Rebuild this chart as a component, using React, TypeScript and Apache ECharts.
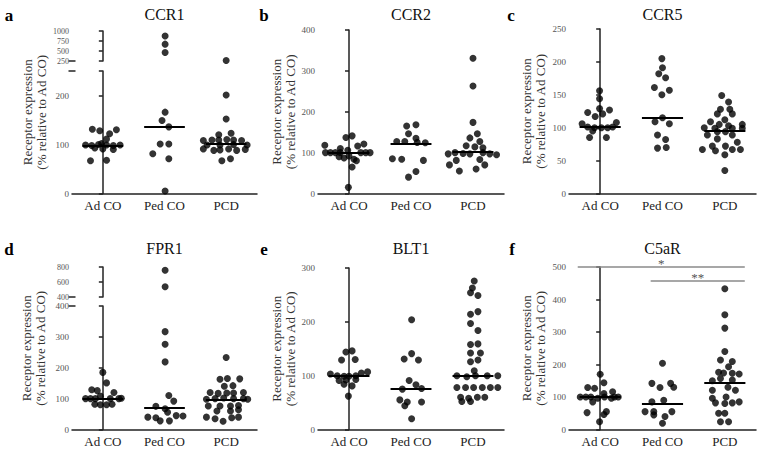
import React, { useEffect, useRef } from "react";
import * as echarts from "echarts";

const groups = ["Ad CO", "Ped CO", "PCD"];
const yName = "Receptor expression\n(% relative to Ad CO)";

// Each point: [horizontal jitter within its group (category units), receptor expression %]
// ---- a: CCR1 ----
const ccr1AdCO = [[-0.17,131],[-0.05,128],[0.22,130],[0.11,122],[0.06,111],[-0.28,99],[-0.18,98],[-0.07,100],[0.06,99],[0.17,98],[0.28,99],[-0.13,93],[0.0,91],[0.17,90],[-0.2,67],[0.06,68],[-0.02,102]];
const ccr1PedCO = [[0.01,874],[0.01,671],[0.01,461],[0.01,166],[-0.04,149],[0.07,136],[-0.07,101],[0.07,101],[-0.19,81],[0.07,71],[0.01,5]];
const ccr1PCD = [[0,262],[0,201],[0,152],[0.08,123],[-0.12,120],[-0.37,108],[-0.23,109],[-0.12,109],[0.01,110],[0.12,109],[0.25,108],[-0.31,99],[-0.1,99],[0.12,100],[0.34,99],[-0.37,91],[-0.2,88],[-0.1,89],[0.04,91],[0.17,88],[0.31,90],[-0.07,67],[0.07,71]];
const ccr1Median = [98, 136, 101];

// ---- b: CCR2 ----
const ccr2AdCO = [[0.05,141],[-0.05,137],[-0.39,118],[0.24,121],[-0.14,110],[0.14,116],[-0.02,106],[-0.38,100],[-0.3,100],[-0.22,100],[-0.14,100],[0.19,100],[0.27,100],[0.34,100],[-0.16,90],[-0.08,87],[0.0,92],[0.08,84],[0.12,80],[0.05,65],[-0.01,15]];
const ccr2PedCO = [[-0.07,165],[0.08,168],[-0.04,146],[0.08,135],[-0.23,127],[-0.1,127],[0.1,125],[0.23,124],[-0.3,85],[-0.15,84],[0.2,81],[0.08,54],[-0.04,40]];
const ccr2PCD = [[0,331],[0,263],[0,174],[0.07,146],[-0.05,136],[0.11,127],[-0.11,117],[0.03,114],[0.16,112],[-0.4,97],[-0.29,100],[-0.16,98],[-0.05,97],[0.16,100],[0.27,97],[0.38,95],[-0.27,81],[0.11,83],[-0.38,70],[0.19,70],[-0.22,55],[0.05,60]];
const ccr2Median = [100, 121, 101];

// ---- c: CCR5 ----
const ccr5AdCO = [[-0.01,156],[-0.01,144],[-0.2,123],[-0.01,129],[0.15,127],[-0.08,117],[0.04,121],[-0.29,106],[0.26,108],[-0.2,101],[-0.09,100],[0.02,100],[0.12,100],[0.2,101],[-0.12,95],[-0.17,85],[0.1,85]];
const ccr5PedCO = [[-0.01,205],[0,191],[-0.06,182],[0.05,176],[-0.13,161],[0.11,157],[-0.01,150],[0,115],[-0.12,109],[0.11,106],[-0.08,89],[0.05,82],[-0.08,69],[0.06,70]];
const ccr5PCD = [[-0.05,149],[0.06,139],[-0.07,128],[0.08,128],[-0.12,121],[0.12,121],[0,112],[-0.23,109],[-0.09,105],[0.06,103],[0.28,105],[-0.33,100],[-0.16,99],[0.12,99],[0.28,99],[-0.12,94],[0.01,94],[-0.28,89],[0.12,89],[-0.12,83],[0.2,78],[-0.2,72],[0.01,72],[-0.36,67],[-0.15,65],[0.12,67],[0.25,67],[0,59],[0,35]];
const ccr5Median = [101, 115, 95];

// ---- d: FPR1 ----
const fpr1AdCO = [[0,185],[0.06,151],[-0.18,129],[-0.09,126],[0.18,120],[-0.28,100],[-0.2,100],[-0.12,100],[0.12,100],[0.26,100],[0.3,101],[-0.04,108],[-0.13,82],[-0.04,80],[0.06,80],[0.15,82]];
const fpr1PedCO = [[0.01,756],[0.01,536],[0.01,317],[0.01,276],[0.01,219],[0.07,110],[-0.14,75],[0.15,92],[0.01,67],[-0.27,40],[-0.14,38],[0.05,56],[0.3,44],[-0.07,28],[0.08,28],[0.19,45]];
const fpr1PCD = [[0,233],[-0.1,163],[0.02,165],[0.22,164],[0.11,142],[-0.03,140],[-0.26,120],[-0.13,117],[0.01,118],[0.12,118],[0.28,120],[-0.32,98],[-0.18,100],[-0.04,102],[0.12,100],[0.28,100],[0.35,98],[-0.29,76],[-0.1,76],[0.07,76],[0.2,78],[-0.15,60],[0.07,60],[0.2,64],[-0.32,40],[-0.18,35],[0.09,38],[0.2,40],[-0.05,27]];
const fpr1Median = [100, 72, 95];

// ---- e: BLT1 ----
const blt1AdCO = [[-0.05,144],[0.05,146],[-0.12,129],[0.1,130],[-0.3,103],[-0.19,100],[-0.08,99],[0,99],[0.11,100],[0.2,105],[0.3,107],[-0.16,91],[-0.05,92],[0.11,93],[-0.08,84],[0.05,81],[-0.01,62]];
const blt1PedCO = [[0.01,204],[0.01,141],[-0.11,131],[0.12,129],[-0.03,91],[0.08,83],[-0.14,75],[0.17,76],[-0.18,55],[-0.06,51],[0.17,51],[-0.1,44],[0.01,20]];
const blt1PCD = [[0.02,276],[-0.01,263],[-0.04,254],[0.08,249],[-0.04,214],[0.08,219],[-0.04,197],[0.08,184],[-0.04,158],[0.08,159],[-0.04,142],[0.12,142],[-0.04,126],[0.08,129],[0.02,109],[-0.26,100],[-0.1,98],[0.04,100],[0.23,100],[0.4,100],[-0.26,78],[-0.12,78],[0.01,78],[0.15,78],[0.28,78],[0.4,78],[-0.2,60],[-0.07,58],[0.07,60],[0.19,60],[-0.18,52],[-0.04,52]];
const blt1Median = [100, 75, 100];

// ---- f: C5aR ----
const c5arAdCO = [[0,170],[0.06,144],[-0.2,129],[-0.09,127],[0.2,116],[0.06,111],[-0.32,100],[-0.23,100],[-0.15,100],[0.07,100],[0.23,100],[0.29,100],[-0.04,96],[0.18,96],[-0.12,85],[-0.21,52],[0.1,55],[0.06,46],[-0.01,24]];
const c5arPedCO = [[0,204],[-0.17,142],[0.13,142],[-0.04,129],[0.18,130],[-0.17,85],[0.02,90],[-0.28,55],[-0.14,55],[0.15,55],[-0.14,45],[0.04,40],[0,19]];
const c5arPCD = [[0,433],[0,353],[0,312],[0,240],[-0.07,214],[0.12,209],[0.06,193],[-0.1,176],[-0.02,174],[0.12,173],[0.23,171],[-0.2,150],[-0.07,157],[0.12,152],[-0.2,121],[0.17,121],[0.05,130],[-0.2,96],[0.02,100],[-0.15,82],[0,80],[0.12,82],[0.23,85],[-0.1,50],[0,50],[-0.07,24],[0.06,24]];
const c5arMedian = [100, 79, 145];

// significance brackets in panel f: [x from, x to, y level, label]
const c5arSig: [number, number, number, string][] = [[-0.36, 2.32, 500, "*"], [0.81, 2.32, 457, "**"]];

const FONT = "Liberation Serif";
const AX = { color: "#222", width: 1.5 };

interface Brk { top: number; bottom: number; min: number; max: number; interval: number }
interface Panel {
  letter: string; title: string; data: number[][][]; medians: number[];
  left: number; width: number; lowTop: number; lowBottom: number; lowMax: number; lowInterval: number;
  brk?: Brk; nameX: number; titleY: number; letterX: number; sig?: [number, number, number, string][];
}

const panels: Panel[] = [
  { letter: "a", title: "CCR1", data: [ccr1AdCO, ccr1PedCO, ccr1PCD], medians: ccr1Median, left: 72, width: 185, lowTop: 71, lowBottom: 193.5, lowMax: 250, lowInterval: 100, brk: { top: 31, bottom: 61, min: 250, max: 1000, interval: 250 }, nameX: 34, titleY: 14, letterX: 9 },
  { letter: "b", title: "CCR2", data: [ccr2AdCO, ccr2PedCO, ccr2PCD], medians: ccr2Median, left: 318, width: 186, lowTop: 30, lowBottom: 193.5, lowMax: 400, lowInterval: 100, nameX: 283, titleY: 14, letterX: 264 },
  { letter: "c", title: "CCR5", data: [ccr5AdCO, ccr5PedCO, ccr5PCD], medians: ccr5Median, left: 569, width: 187, lowTop: 29, lowBottom: 193.5, lowMax: 250, lowInterval: 50, nameX: 533, titleY: 14, letterX: 511 },
  { letter: "d", title: "FPR1", data: [fpr1AdCO, fpr1PedCO, fpr1PCD], medians: fpr1Median, left: 72, width: 185, lowTop: 306, lowBottom: 429.5, lowMax: 400, lowInterval: 100, brk: { top: 267, bottom: 297, min: 400, max: 800, interval: 200 }, nameX: 33, titleY: 248, letterX: 9 },
  { letter: "e", title: "BLT1", data: [blt1AdCO, blt1PedCO, blt1PCD], medians: blt1Median, left: 318, width: 186, lowTop: 268, lowBottom: 429.5, lowMax: 300, lowInterval: 100, nameX: 283, titleY: 248, letterX: 264 },
  { letter: "f", title: "C5aR", data: [c5arAdCO, c5arPedCO, c5arPCD], medians: c5arMedian, left: 569, width: 187, lowTop: 267, lowBottom: 429.5, lowMax: 500, lowInterval: 100, nameX: 533, titleY: 248, letterX: 512, sig: c5arSig },
];

function yAxisOpt(gridIndex: number, min: number, max: number, interval: number, fs: number) {
  return {
    type: "value", gridIndex, min, max, interval,
    axisLine: { show: true, lineStyle: AX },
    axisTick: { show: true, length: 4, lineStyle: AX },
    axisLabel: { color: "#555", fontSize: fs, fontFamily: FONT, margin: 3,
      formatter: (v: number) => ((v - min) % interval === 0 ? String(v) : "") },
    splitLine: { show: false },
  };
}

function text(x: number, y: number, t: string, size: number, weight = "normal", color = "#111", rotation = 0) {
  return {
    type: "text", x, y, rotation, silent: true,
    style: { text: t, fontSize: size, fontFamily: FONT, fontWeight: weight, fill: color,
      align: "center", verticalAlign: "middle", textAlign: "center", textVerticalAlign: "middle", lineHeight: 14 },
  };
}

function buildOption() {
  const grid: any[] = [], xAxis: any[] = [], yAxis: any[] = [], series: any[] = [], graphic: any[] = [];
  panels.forEach((p) => {
    const lg = grid.length;
    grid.push({ left: p.left, top: p.lowTop, width: p.width, height: p.lowBottom - p.lowTop });
    xAxis.push({ type: "category", gridIndex: lg, data: groups,
      axisLine: { lineStyle: AX }, axisTick: { alignWithLabel: true, length: 4, lineStyle: AX },
      axisLabel: { color: "#222", fontSize: 13, fontFamily: FONT, margin: 5 }, splitLine: { show: false } });
    const lowX = xAxis.length;
    xAxis.push({ type: "value", gridIndex: lg, min: -0.5, max: 2.5, show: false, splitLine: { show: false } });
    const lowY = yAxis.length;
    yAxis.push(yAxisOpt(lg, 0, p.lowMax, p.lowInterval, 9));
    let topX = -1, topY = -1;
    if (p.brk) {
      const tg = grid.length;
      grid.push({ left: p.left, top: p.brk.top, width: p.width, height: p.brk.bottom - p.brk.top });
      topX = xAxis.length;
      xAxis.push({ type: "value", gridIndex: tg, min: -0.5, max: 2.5, show: false, splitLine: { show: false } });
      topY = yAxis.length;
      yAxis.push(yAxisOpt(tg, p.brk.min, p.brk.max, p.brk.interval, 8));
      graphic.push({ type: "line", silent: true, shape: { x1: p.left - 3.5, y1: p.brk.bottom, x2: p.left + 3.5, y2: p.brk.bottom }, style: { stroke: "#222", lineWidth: 1.5 } });
      graphic.push({ type: "line", silent: true, shape: { x1: p.left - 3.5, y1: p.lowTop, x2: p.left + 3.5, y2: p.lowTop }, style: { stroke: "#222", lineWidth: 1.5 } });
    }
    p.data.forEach((pts, gi) => {
      const limit = p.brk ? p.brk.min : Infinity;
      const low = pts.filter((d) => d[1] <= limit).map((d) => [gi + d[0], d[1]]);
      const high = pts.filter((d) => d[1] > limit).map((d) => [gi + d[0], d[1]]);
      const ml: any[] = [[{ coord: [gi - 0.33, p.medians[gi]] }, { coord: [gi + 0.33, p.medians[gi]] }]];
      if (p.sig && gi === 2) {
        p.sig.forEach(([x1, x2, y, lab]) => {
          ml.push([
            { coord: [x1, y], lineStyle: { color: "#8a8a8a", width: 1.5, type: "solid" },
              label: { show: true, formatter: lab, position: "middle", color: "#555", fontSize: 13, fontFamily: FONT, distance: -3 } },
            { coord: [x2, y] },
          ]);
        });
      }
      series.push({ type: "scatter", xAxisIndex: lowX, yAxisIndex: lowY, data: low, symbolSize: 7,
        itemStyle: { color: "#000" }, clip: false, silent: true,
        markLine: { silent: true, symbol: "none", animation: false, label: { show: false },
          lineStyle: { color: "#000", width: 1.8, type: "solid" }, emphasis: { disabled: true }, data: ml } });
      if (high.length) {
        series.push({ type: "scatter", xAxisIndex: topX, yAxisIndex: topY, data: high, symbolSize: 7,
          itemStyle: { color: "#000" }, clip: false, silent: true });
      }
    });
    const axTop = p.brk ? p.brk.top : p.lowTop;
    graphic.push(text(p.left + p.width / 2, p.titleY, p.title, 16, "normal", "#111"));
    graphic.push(text(p.letterX, p.titleY + 1, p.letter, 17, "bold", "#000"));
    graphic.push(text(p.nameX, (axTop + p.lowBottom) / 2, yName, 13, "normal", "#333", Math.PI / 2));
  });
  return { animation: false, backgroundColor: "#fff", textStyle: { fontFamily: FONT }, grid, xAxis, yAxis, series, graphic };
}

export default function App() {
  const ref = useRef<HTMLDivElement>(null);
  useEffect(() => {
    if (!ref.current) return;
    const chart = echarts.init(ref.current, undefined, { renderer: "svg" });
    chart.setOption(buildOption() as any);
    return () => chart.dispose();
  }, []);
  return <div ref={ref} style={{ position: "fixed", left: 0, top: 0, width: 760, height: 450, background: "#fff" }} />;
}
